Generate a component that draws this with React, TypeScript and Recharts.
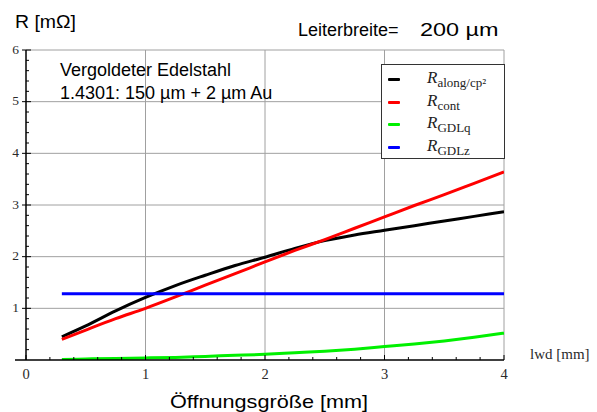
import { LineChart, Line, XAxis, YAxis, ReferenceLine } from 'recharts'

// lwd [mm]
const xs = [0.3, 0.5, 0.75, 1, 1.25, 1.5, 1.75, 2, 2.25, 2.5, 2.75, 3, 3.25, 3.5, 3.75, 4]
// R along / cp^2 [mΩ]
const along = [0.45, 0.66, 0.95, 1.21, 1.44, 1.64, 1.83, 1.99, 2.16, 2.31, 2.42, 2.51, 2.6, 2.69, 2.78, 2.87]
// R cont
const cont = [0.4, 0.58, 0.8, 1.0, 1.22, 1.45, 1.67, 1.9, 2.12, 2.33, 2.55, 2.77, 2.99, 3.2, 3.42, 3.64]
// R GDL q
const gdlq = [0.01, 0.02, 0.03, 0.04, 0.05, 0.07, 0.09, 0.11, 0.14, 0.17, 0.21, 0.26, 0.31, 0.37, 0.44, 0.52]
// R GDL z
const gdlz = [1.28, 1.28, 1.28, 1.28, 1.28, 1.28, 1.28, 1.28, 1.28, 1.28, 1.28, 1.28, 1.28, 1.28, 1.28, 1.28]

const xTicks = [0, 0.2, 0.4, 0.6, 0.8, 1, 1.2, 1.4, 1.6, 1.8, 2, 2.2, 2.4, 2.6, 2.8, 3, 3.2, 3.4, 3.6, 3.8, 4]
const yTicks = [0, 0.2, 0.4, 0.6, 0.8, 1, 1.2, 1.4, 1.6, 1.8, 2, 2.2, 2.4, 2.6, 2.8, 3, 3.2, 3.4, 3.6, 3.8, 4,
  4.2, 4.4, 4.6, 4.8, 5, 5.2, 5.4, 5.6, 5.8, 6]
const gridX = [1, 2, 3, 4]
const gridY = [1, 2, 3, 4, 5, 6]

const series = [
  { key: 'along', color: '#000000', sub: 'along/cp²' },
  { key: 'cont', color: '#ff0000', sub: 'cont' },
  { key: 'gdlq', color: '#00f000', sub: 'GDLq' },
  { key: 'gdlz', color: '#0000ff', sub: 'GDLz' },
]

const data = xs.map((x, i) => ({ x, along: along[i], cont: cont[i], gdlq: gdlq[i], gdlz: gdlz[i] }))

const serif = '"Liberation Serif", "DejaVu Serif", serif'
const sans = '"Liberation Sans", Arial, sans-serif'
const tickColor = '#2a2a2a'

const isMajor = (v: number) => Math.abs(v - Math.round(v)) < 1e-6

function XTick(props: any) {
  const { x, y, payload } = props
  const major = isMajor(payload.value)
  return (
    <g>
      <line x1={x} x2={x} y1={y} y2={y - (major ? 5 : 3)} stroke="#000" strokeWidth={1} />
      {major && (
        <text x={x} y={y + 19} textAnchor="middle" fontFamily={serif} fontSize={14.5} fill={tickColor}>
          {payload.value}
        </text>
      )}
    </g>
  )
}

function YTick(props: any) {
  const { x, y, payload } = props
  const major = isMajor(payload.value)
  if (payload.value === 0) {
    // x axis runs a little past the y axis
    return <line x1={x - 11} x2={x} y1={y} y2={y} stroke="#000" strokeWidth={1.5} />
  }
  return (
    <g>
      <line x1={major ? x - 4 : x} x2={x + (major ? 5 : 3)} y1={y} y2={y} stroke="#000" strokeWidth={1} />
      {major && (
        <text x={x - 7} y={y + 3.5} textAnchor="end" fontFamily={serif} fontSize={13.5} fill={tickColor}>
          {payload.value}
        </text>
      )}
    </g>
  )
}

const label = (left: number, baseline: number, size: number, sx: number) => ({
  position: 'absolute' as const,
  left,
  top: baseline - size,
  fontFamily: sans,
  fontSize: size,
  lineHeight: `${size}px`,
  color: '#000',
  whiteSpace: 'nowrap' as const,
  transform: `scaleX(${sx})`,
  transformOrigin: 'left top',
})

export default function App() {
  return (
    <div style={{ position: 'absolute', left: 0, top: 0, width: 597, height: 412, background: '#fff' }}>
      <LineChart width={597} height={412} data={data} margin={{ top: 50, right: 93, bottom: 0, left: 0 }}>
        {gridX.map((g) => (
          <ReferenceLine key={'gx' + g} x={g} stroke="#a0a0a0" strokeWidth={1} />
        ))}
        {gridY.map((g) => (
          <ReferenceLine key={'gy' + g} y={g} stroke="#a0a0a0" strokeWidth={1} />
        ))}
        <XAxis
          dataKey="x"
          type="number"
          domain={[0, 4]}
          ticks={xTicks}
          interval={0}
          height={52}
          tickSize={0}
          tickMargin={0}
          tick={<XTick />}
          axisLine={{ stroke: '#000', strokeWidth: 1.5 }}
          allowDataOverflow
        />
        <YAxis
          type="number"
          domain={[0, 6]}
          ticks={yTicks}
          interval={0}
          width={26}
          tickSize={0}
          tickMargin={0}
          tick={<YTick />}
          axisLine={{ stroke: '#000', strokeWidth: 1.5 }}
          allowDataOverflow
        />
        {series.map((s) => (
          <Line
            key={s.key}
            type="monotone"
            dataKey={s.key}
            stroke={s.color}
            strokeWidth={3}
            dot={false}
            isAnimationActive={false}
          />
        ))}
      </LineChart>

      <div style={label(15, 31, 18, 1.08)}>R [mΩ]</div>
      <div style={label(298, 39, 18, 1.0)}>Leiterbreite=</div>
      <div style={label(420, 39, 18, 1.3)}>200 µm</div>
      <div style={label(60, 79, 18, 1.0)}>Vergoldeter Edelstahl</div>
      <div style={label(60, 102, 18, 1.0)}>1.4301: 150 µm + 2 µm Au</div>
      <div style={{ position: 'absolute', left: 530, top: 346, fontFamily: serif, fontSize: 15, color: tickColor, whiteSpace: 'nowrap' }}>
        lwd [mm]
      </div>
      <div style={label(170, 411, 18.5, 1.17)}>Öffnungsgröße [mm]</div>

      <div
        style={{
          position: 'absolute',
          left: 381,
          top: 64,
          width: 124,
          height: 95,
          border: '1px solid #333',
          background: '#fff',
          boxSizing: 'border-box',
        }}
      >
        {series.map((s, i) => (
          <div key={s.key} style={{ position: 'absolute', left: 0, top: 3 + i * 22.5, height: 22, width: 120 }}>
            <div style={{ position: 'absolute', left: 6, top: 10, width: 12, height: 3, background: s.color, borderRadius: 1 }} />
            <div style={{ position: 'absolute', left: 45, top: 0, fontFamily: serif, fontSize: 17, whiteSpace: 'nowrap', color: '#222' }}>
              <i>R</i>
              <span style={{ fontSize: 13, position: 'relative', top: 4 }}>{s.sub}</span>
            </div>
          </div>
        ))}
      </div>
    </div>
  )
}
